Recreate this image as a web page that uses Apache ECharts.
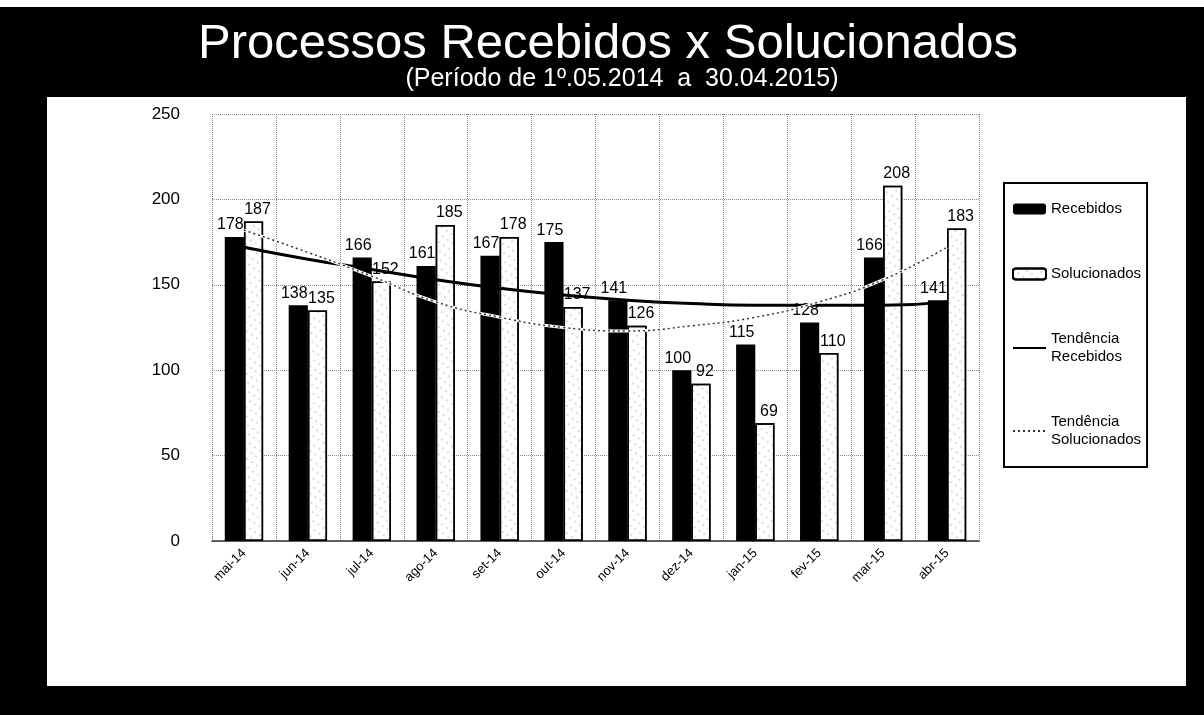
<!DOCTYPE html>
<html>
<head>
<meta charset="utf-8">
<script src="https://cdn.jsdelivr.net/npm/echarts@6/dist/echarts.min.js"></script>
<style>
html,body{margin:0;padding:0;background:#000;}
#chart{width:1204px;height:715px;}
</style>
</head>
<body>
<div id="chart"></div>
<script>
var categories = ['mai-14','jun-14','jul-14','ago-14','set-14','out-14','nov-14','dez-14','jan-15','fev-15','mar-15','abr-15'];
var recebidos = [178,138,166,161,167,175,141,100,115,128,166,141];
var solucionados = [187,135,152,185,178,137,126,92,69,110,208,183];
var tendRecebidos = [172,165,159,153,148,144,141,139,138,138,138,140];
var tendSolucionados = [182,169,155,140,131,125,123,126,131,140,153,172];
var yTicks = [0,50,100,150,200,250];

var FONT = '"Liberation Sans", Arial, sans-serif';
var legendNames = {
  'Recebidos':'Recebidos',
  'Solucionados':'Solucionados',
  'Tendência Recebidos':'Tendência\nRecebidos',
  'Tendência Solucionados':'Tendência\nSolucionados'
};

var chart = echarts.init(document.getElementById('chart'));
chart.setOption({
  backgroundColor:'#000',
  animation:false,
  graphic:[
    {type:'rect', z:-10, shape:{x:0,y:0,width:1204,height:7}, style:{fill:'#fff'}},
    {type:'rect', z:-10, shape:{x:47,y:97,width:1139,height:589}, style:{fill:'#fff'}},
    {type:'text', x:608, y:44, style:{text:'Processos Recebidos x Solucionados', fill:'#fff', font:'49px '+FONT, textAlign:'center', textVerticalAlign:'middle'}},
    {type:'text', x:622, y:79, style:{text:'(Período de 1º.05.2014  a  30.04.2015)', fill:'#fff', font:'25px '+FONT, textAlign:'center', textVerticalAlign:'middle'}}
  ],
  grid:{left:212, right:225, top:114, bottom:174},
  legend:{
    orient:'vertical', left:1004, top:183, width:176, height:272,
    padding:[17,6,18,8], itemGap:47,
    borderColor:'#000', borderWidth:2,
    itemWidth:33, itemHeight:11,
    textStyle:{color:'#000', fontFamily:FONT, fontSize:15, lineHeight:18},
    formatter:function(n){return legendNames[n];},
    data:[
      {name:'Recebidos'},
      {name:'Solucionados'},
      {name:'Tendência Recebidos', itemStyle:{opacity:0}},
      {name:'Tendência Solucionados', itemStyle:{opacity:0}}
    ]
  },
  xAxis:{
    type:'category', data:categories,
    axisLine:{lineStyle:{color:'#333', width:1.5}},
    axisTick:{show:false},
    axisLabel:{rotate:45, color:'#000', fontFamily:FONT, fontSize:13, margin:10},
    splitLine:{show:true, lineStyle:{color:'#777', type:'dotted', width:1}}
  },
  yAxis:{
    type:'value', min:0, max:250, interval:50,
    axisLine:{show:false}, axisTick:{show:false},
    axisLabel:{color:'#000', fontFamily:FONT, fontSize:17, margin:32,
      formatter:function(v){return yTicks.indexOf(v)>=0 ? String(v) : '';}},
    splitLine:{show:true, lineStyle:{color:'#888', type:'dotted', width:1}}
  },
  series:[
    {
      name:'Recebidos', type:'bar', data:recebidos,
      barGap:'0%', barCategoryGap:'40%',
      itemStyle:{color:'#000'},
      label:{show:true, position:'top', offset:[-4,0], color:'#000', fontFamily:FONT, fontSize:16, distance:4}
    },
    {
      name:'Solucionados', type:'bar', data:solucionados,
      itemStyle:{color:'#fff', borderColor:'#000', borderWidth:1.5,
        decal:{symbol:'circle', symbolSize:0.5, color:'rgba(0,0,0,0.75)', dashArrayX:[2,4], dashArrayY:[2,5], rotation:0.6}},
      label:{show:true, position:'top', offset:[4,0], color:'#000', fontFamily:FONT, fontSize:16, distance:4}
    },
    {
      name:'Tendência Recebidos', type:'line', data:tendRecebidos, smooth:true,
      symbol:'none', z:5,
      lineStyle:{color:'#000', width:3},
      itemStyle:{color:'#000'}
    },
    {
      name:'Tendência Solucionados halo', type:'line', data:tendSolucionados, smooth:true,
      symbol:'none', z:5, silent:true,
      lineStyle:{color:'#fff', width:3},
      itemStyle:{color:'#fff'}
    },
    {
      name:'Tendência Solucionados', type:'line', data:tendSolucionados, smooth:true,
      symbol:'none', z:6,
      lineStyle:{color:'#333', width:1.5, type:[2,3]},
      itemStyle:{color:'#333'}
    }
  ]
});
</script>
</body>
</html>
